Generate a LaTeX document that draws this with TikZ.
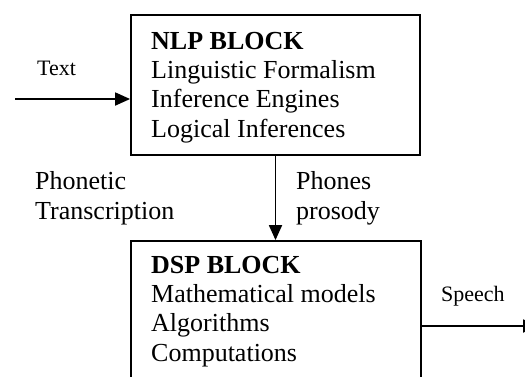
\documentclass[tikz,border=0pt]{standalone}
\usepackage{fontspec}
\setmainfont{Liberation Serif}
\usetikzlibrary{arrows.meta}
\tikzset{
  blockbox/.style={draw, line width=1.8pt, inner sep=0pt},
  bodytext/.style={anchor=base west, inner sep=0pt, align=left, font=\fontsize{26}{29.3}\selectfont},
  smalltext/.style={anchor=base west, inner sep=0pt, font=\fontsize{22}{26}\selectfont},
  conn/.style={line width=1.8pt, -{Triangle[length=15pt,width=13pt]}}
}
\begin{document}
\begin{tikzpicture}[x=1pt,y=-1pt]
\useasboundingbox (0,0) rectangle (525,376);
\clip (0,0) rectangle (525,376);
\node[blockbox, minimum width=289pt, minimum height=140pt] (nlp) at (275.5,85) {};
\node[blockbox, minimum width=290pt, minimum height=159pt] (dsp) at (276,320.5) {};
\node[bodytext] (nlptext) at (151,137) {\textbf{NLP BLOCK}\\Linguistic Formalism\\Inference Engines\\Logical Inferences};
\node[bodytext] (dsptext) at (151,361) {\textbf{DSP BLOCK}\\Mathematical models\\Algorithms\\Computations};
\node[bodytext] (phon) at (35,219) {Phonetic\\Transcription};
\node[bodytext] (phones) at (296,219) {Phones\\prosody};
\node[smalltext] (textlbl) at (37,75) {Text};
\node[smalltext] (speechlbl) at (441,301) {Speech};
\coordinate (in) at (15,99);
\coordinate (out) at (538,326);
\draw[conn] (in) -- (in -| nlp.west);
\draw[conn] (nlp.south) -- (nlp.south |- dsp.north);
\draw[conn] (out -| dsp.east) -- (out);
\end{tikzpicture}
\end{document}
